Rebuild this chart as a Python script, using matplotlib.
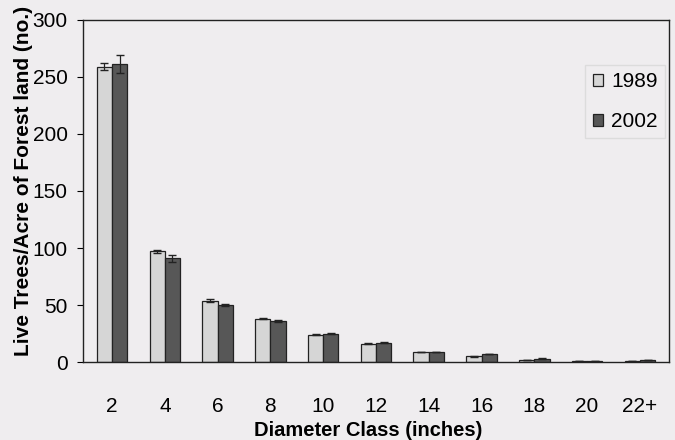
import matplotlib.pyplot as plt
import numpy as np

plt.rcParams['font.family'] = ['Liberation Sans', 'DejaVu Sans']

classes = ["2", "4", "6", "8", "10", "12", "14", "16", "18", "20", "22+"]
trees_1989 = [259, 97, 54, 38, 24, 16, 9, 5, 2, 1, 1]
trees_2002 = [261, 91, 50, 36, 25, 17, 9, 7, 3, 1, 2]
err_1989 = [3, 1, 1, 0.5, 0.5, 0.5, 0.3, 0.3, 0.2, 0.1, 0.1]
err_2002 = [8, 3, 1, 0.5, 0.5, 0.5, 0.3, 0.3, 0.2, 0.1, 0.1]

bg = "#efedef"
fig = plt.figure(figsize=(6.75, 4.4), dpi=100, facecolor=bg)
ax = fig.add_axes([0.123, 0.177, 0.868, 0.778], facecolor=bg)

x = np.arange(len(classes))
w = 0.29
ax.bar(x - w / 2, trees_1989, w, color="#d6d6d6", edgecolor="#222222", linewidth=0.9,
       yerr=err_1989, error_kw=dict(ecolor="#222222", capsize=3, elinewidth=0.9), label="1989")
ax.bar(x + w / 2, trees_2002, w, color="#575757", edgecolor="#222222", linewidth=0.9,
       yerr=err_2002, error_kw=dict(ecolor="#222222", capsize=3, elinewidth=0.9), label="2002")

ax.set_xlim(-0.55, len(classes) - 0.45)
ax.set_ylim(0, 300)
ax.set_yticks(range(0, 301, 50))
ax.set_xticks(x)
ax.set_xticklabels(classes)
ax.tick_params(axis="x", length=0, pad=25, labelsize=15)
ax.tick_params(axis="y", length=4, labelsize=15, direction="out", pad=7)
for s in ax.spines.values():
    s.set_linewidth(1.0)
    s.set_color("#222222")

ax.set_xlabel("Diameter Class (inches)", fontsize=14.5, fontweight="bold")
ax.set_ylabel("Live Trees/Acre of Forest land (no.)", fontsize=15, fontweight="bold")
ax.xaxis.set_label_coords(0.487, -0.1725)
ax.yaxis.set_label_coords(-0.085, 0.53)

leg = ax.legend(loc="upper right", bbox_to_anchor=(0.993, 0.868), fontsize=15, frameon=True,
                handlelength=0.5, handleheight=0.5, handletextpad=0.38, labelspacing=1.0,
                fancybox=False, borderpad=0.35, borderaxespad=0)
leg.get_frame().set_facecolor(bg)
leg.get_frame().set_edgecolor("#d8d8d8")

fig.savefig("out.png", dpi=100, facecolor=bg)
